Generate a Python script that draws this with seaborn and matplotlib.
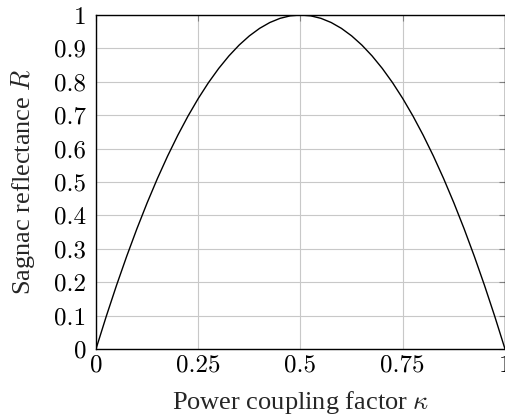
import matplotlib
matplotlib.use("Agg")
import matplotlib.pyplot as plt
import seaborn as sns
import pandas as pd

kappa = [0.0, 0.025, 0.05, 0.075, 0.1, 0.125, 0.15, 0.175, 0.2, 0.225, 0.25, 0.275, 0.3,
         0.325, 0.35, 0.375, 0.4, 0.425, 0.45, 0.475, 0.5, 0.525, 0.55, 0.575, 0.6,
         0.625, 0.65, 0.675, 0.7, 0.725, 0.75, 0.775, 0.8, 0.825, 0.85, 0.875, 0.9,
         0.925, 0.95, 0.975, 1.0]
reflectance = [0.0, 0.0975, 0.19, 0.2775, 0.36, 0.4375, 0.51, 0.5775, 0.64, 0.6975, 0.75,
               0.7975, 0.84, 0.8775, 0.91, 0.9375, 0.96, 0.9775, 0.99, 0.9975, 1.0,
               0.9975, 0.99, 0.9775, 0.96, 0.9375, 0.91, 0.8775, 0.84, 0.7975, 0.75,
               0.6975, 0.64, 0.5775, 0.51, 0.4375, 0.36, 0.2775, 0.19, 0.0975, 0.0]
xticks = [0, 0.25, 0.5, 0.75, 1]
xticklabels = ["0", "0.25", "0.5", "0.75", "1"]
yticks = [0, 0.1, 0.2, 0.3, 0.4, 0.5, 0.6, 0.7, 0.8, 0.9, 1]
yticklabels = ["0", "0.1", "0.2", "0.3", "0.4", "0.5", "0.6", "0.7", "0.8", "0.9", "1"]

sns.set_style("white")
plt.rcParams["font.family"] = ["cmr10", "DejaVu Serif"]
plt.rcParams["mathtext.fontset"] = "cm"
plt.rcParams["axes.unicode_minus"] = False

df = pd.DataFrame({"k": kappa, "R": reflectance})

fig = plt.figure(figsize=(5.06, 4.2), dpi=100)
ax = fig.add_axes([96/506, 1-349/420, (505-96)/506, (349-15)/420])
sns.lineplot(data=df, x="k", y="R", ax=ax, color="black", linewidth=1.0)
ax.set_xlim(0, 1)
ax.set_ylim(0, 1)
ax.set_xticks(xticks)
ax.set_xticklabels(xticklabels)
ax.set_yticks(yticks)
ax.set_yticklabels(yticklabels)
ax.grid(True, color="#c8c8c8", linewidth=0.8)
ax.tick_params(direction="in", length=4, width=0.8, color="#808080", labelsize=18,
               top=True, right=True, labelcolor="black")
ax.tick_params(axis="x", pad=4)
ax.tick_params(axis="y", pad=7)
for s in ax.spines.values():
    s.set_color("black")
    s.set_linewidth(1.0)
label_font = ["Liberation Serif", "DejaVu Serif"]
ax.set_xlabel(r"Power coupling factor $\kappa$", fontsize=19, family=label_font, labelpad=9)
ax.set_ylabel(r"Sagnac reflectance $R$", fontsize=19, family=label_font, labelpad=12)
fig.savefig("out.png", dpi=100)
